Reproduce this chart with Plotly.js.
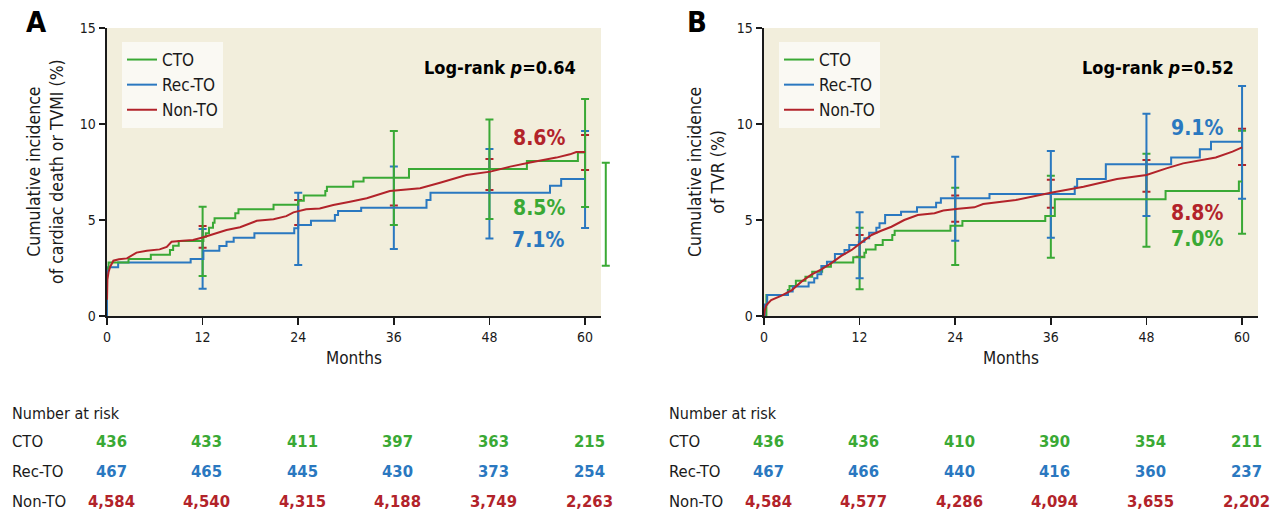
<!DOCTYPE html>
<html>
<head>
<meta charset="utf-8">
<script src="https://cdn.plot.ly/plotly-3.0.1.min.js"></script>
<style>html,body{margin:0;padding:0;background:#fff;}#chart{width:1274px;height:515px;}</style>
</head>
<body>
<div id="chart"></div>
<script>
// ---------- data ----------
const months = [0, 12, 24, 36, 48, 60];
const groupNames = ["CTO", "Rec-TO", "Non-TO"];

// Panel A: cardiac death or TVMI
const aCtoX = [0, 0.2, 2.7, 5.5, 7.9, 8.3, 9.0, 12.1, 12.4, 12.8, 13.3, 13.5, 16.1, 16.5, 20.9, 24.0, 24.7, 27.4, 27.6, 30.9, 32.2, 37.9, 52.7, 59.1, 60];
const aCtoY = [2.48, 2.78, 2.97, 3.19, 3.44, 3.66, 3.9, 4.13, 4.31, 4.6, 4.86, 5.09, 5.35, 5.56, 5.8, 6.0, 6.27, 6.51, 6.73, 7.0, 7.2, 7.66, 8.07, 8.52, 8.52];
const aRecX = [0, 0, 0.1, 1.4, 10.5, 12.1, 14.1, 15.0, 15.9, 18.5, 23.5, 24.0, 25.6, 28.6, 29.0, 31.9, 40.1, 40.6, 55.6, 57.0, 60];
const aRecY = [0, 2.2, 2.54, 2.78, 2.97, 3.4, 3.65, 3.87, 4.08, 4.31, 4.57, 4.74, 4.96, 5.26, 5.47, 5.64, 6.04, 6.42, 6.79, 7.14, 7.14];
const aNonX = [0, 0.05, 0.2, 0.4, 0.8, 1.5, 2.5, 3.7, 5, 6.6, 7.5, 8.1, 9.5, 10.8, 12.1, 13.5, 15, 16.7, 18.8, 20.9, 22.5, 23.4, 25, 26.7, 28.4, 30.5, 32.6, 35.5, 39.3, 41.8, 45.1, 48.1, 50.6, 53.1, 56.4, 58.1, 58.9, 60];
const aNonY = [0.85, 1.9, 2.3, 2.57, 2.88, 2.95, 3.0, 3.3, 3.4, 3.47, 3.6, 3.87, 3.92, 3.96, 4.1, 4.3, 4.48, 4.62, 4.96, 5.04, 5.2, 5.4, 5.56, 5.6, 5.78, 5.95, 6.13, 6.51, 6.65, 6.94, 7.34, 7.52, 7.78, 8.0, 8.25, 8.42, 8.54, 8.54];

const aCtoCiX = [12, 36, 48, 60];
const aCtoCiLo = [2.08, 4.74, 5.05, 5.68];
const aCtoCiHi = [5.69, 9.64, 10.23, 11.30];
const aCtoStrayX = [62.6];
const aCtoStrayLo = [2.62];
const aCtoStrayHi = [7.98];
const aRecCiX = [12, 24, 36, 48, 60];
const aRecCiLo = [1.42, 2.66, 3.49, 4.03, 4.58];
const aRecCiHi = [4.53, 6.42, 7.78, 8.70, 9.64];
const aNonCiX = [12, 24, 36, 48, 60];
const aNonCiLo = [3.56, 4.74, 5.75, 6.56, 7.60];
const aNonCiHi = [4.69, 6.04, null, 8.18, 9.43];

const aRiskCto = [436, 433, 411, 397, 363, 215];
const aRiskRec = [467, 465, 445, 430, 373, 254];
const aRiskNon = [4584, 4540, 4315, 4188, 3749, 2263];
const aFinal = ["8.6%", "8.5%", "7.1%"];   // Non-TO, CTO, Rec-TO
const aLogRank = "0.64";

// Panel B: TVR
const bCtoX = [0, 0.3, 3.0, 3.2, 4.0, 5.2, 6.05, 7.3, 8.4, 11.2, 12.6, 12.8, 14.0, 14.9, 16.1, 16.4, 23.4, 24.9, 35.3, 36.5, 50.4, 59.6, 60];
const bCtoY = [0, 1.09, 1.35, 1.56, 1.84, 2.05, 2.31, 2.57, 2.78, 3.06, 3.3, 3.47, 3.7, 3.96, 4.22, 4.44, 4.7, 4.95, 5.21, 6.08, 6.51, 7.0, 7.0];
const bRecX = [0, 0.1, 0.4, 3.0, 3.6, 5.6, 6.3, 6.7, 7.2, 7.9, 8.9, 10.1, 10.7, 11.9, 12.6, 13.2, 14.1, 14.5, 15.2, 17.2, 19.2, 21.6, 22.2, 28.3, 39.0, 39.3, 42.9, 51.1, 54.7, 56.1, 60];
const bRecY = [0, 0.6, 1.09, 1.27, 1.53, 1.74, 1.96, 2.17, 2.6, 2.83, 3.23, 3.44, 3.7, 3.87, 4.05, 4.34, 4.6, 4.83, 5.26, 5.43, 5.66, 5.9, 6.13, 6.35, 6.73, 7.14, 7.9, 8.26, 8.68, 9.08, 9.08];
const bNonX = [0, 0.1, 0.3, 0.9, 2.2, 3.5, 4.7, 5.9, 7.2, 8.4, 9.7, 11, 12.2, 13.5, 14.7, 16, 17.6, 19.3, 21.4, 22.5, 24.4, 26.4, 27.5, 31.6, 36, 40.1, 44.3, 48, 50.5, 52.6, 56.7, 58.8, 60];
const bNonY = [0, 0.3, 0.57, 0.83, 1.06, 1.35, 1.79, 2.14, 2.43, 2.74, 3.13, 3.44, 3.82, 4.22, 4.44, 4.65, 5.0, 5.26, 5.35, 5.49, 5.59, 5.66, 5.83, 6.04, 6.42, 6.73, 7.14, 7.34, 7.69, 7.95, 8.26, 8.56, 8.78];

const bCtoCiX = [12, 24, 36, 48, 60];
const bCtoCiLo = [1.39, 2.66, 3.04, 3.61, 4.29];
const bCtoCiHi = [4.60, 6.68, 7.30, 8.45, 9.65];
const bRecCiX = [12, 24, 36, 48, 60];
const bRecCiLo = [1.96, 3.92, 4.08, 5.21, 6.11];
const bRecCiHi = [5.40, 8.30, 8.60, 10.53, 11.98];
const bNonCiX = [12, 24, 36, 48, 60];
const bNonCiLo = [3.09, 4.91, 5.64, 6.47, 7.86];
const bNonCiHi = [4.22, 6.27, 7.10, 8.13, 9.75];

const bRiskCto = [436, 436, 410, 390, 354, 211];
const bRiskRec = [467, 466, 440, 416, 360, 237];
const bRiskNon = [4584, 4577, 4286, 4094, 3655, 2202];
const bFinal = ["9.1%", "8.8%", "7.0%"];   // Rec-TO, Non-TO, CTO
const bLogRank = "0.52";

// ---------- styling ----------
const W = 1274, H = 515;
const FONT = "'Liberation Sans Narrow','DejaVu Sans Condensed','Arial Narrow',sans-serif";
const GREEN = "#3aa935", BLUE = "#2a78c0", RED = "#b2232a", INK = "#1a1a1a";
const BG = "#f2eedc";
const px = v => v / W, py = v => (H - v) / H;
const X_MAX = 62;                    // axis range end (months)
const A_L = 107, A_R = 601, B_L = 764, B_R = 1258, STRAY_R = 625;
const pxPerMonth = (A_R - A_L) / X_MAX;

function curve(x, y, name, color, xa, ya, legend, rank, shape) {
  return {x, y, name, type: "scatter", mode: "lines", xaxis: xa, yaxis: ya,
    line: {color, width: 2, shape}, legend, legendrank: rank, hoverinfo: "skip"};
}
function ci(x, lo, hi, color, xa, ya) {
  return {x, y: lo, type: "scatter", mode: "markers", xaxis: xa, yaxis: ya,
    marker: {size: 1, opacity: 0}, showlegend: false, hoverinfo: "skip", cliponaxis: false,
    error_y: {type: "data", symmetric: false,
      array: hi.map((h, i) => h == null ? 0 : h - lo[i]),
      arrayminus: lo.map(() => 0), color, thickness: 2, width: 4}};
}

const traces = [
  ci(aNonCiX, aNonCiLo, aNonCiHi, RED, "x", "y"),
  ci(aRecCiX, aRecCiLo, aRecCiHi, BLUE, "x", "y"),
  ci(aCtoCiX, aCtoCiLo, aCtoCiHi, GREEN, "x", "y"),
  ci(aCtoStrayX, aCtoStrayLo, aCtoStrayHi, GREEN, "x3", "y3"),
  curve(aRecX, aRecY, groupNames[1], BLUE, "x", "y", "legend", 2, "hv"),
  curve(aCtoX, aCtoY, groupNames[0], GREEN, "x", "y", "legend", 1, "hv"),
  curve(aNonX, aNonY, groupNames[2], RED, "x", "y", "legend", 3, "linear"),

  ci(bNonCiX, bNonCiLo, bNonCiHi, RED, "x2", "y2"),
  ci(bCtoCiX, bCtoCiLo, bCtoCiHi, GREEN, "x2", "y2"),
  ci(bRecCiX, bRecCiLo, bRecCiHi, BLUE, "x2", "y2"),
  curve(bCtoX, bCtoY, groupNames[0], GREEN, "x2", "y2", "legend2", 1, "hv"),
  curve(bRecX, bRecY, groupNames[1], BLUE, "x2", "y2", "legend2", 2, "hv"),
  curve(bNonX, bNonY, groupNames[2], RED, "x2", "y2", "legend2", 3, "linear")
];

function xax(l, r) {
  return {domain: [px(l), px(r)], range: [0, X_MAX], tickvals: months, ticks: "outside", ticklen: 7,
    tickwidth: 1.5, tickcolor: INK, showline: true, linecolor: INK, linewidth: 2,
    showgrid: false, zeroline: false, fixedrange: true,
    tickfont: {family: FONT, size: 14, color: INK}};
}
function yax() {
  return {domain: [py(316), py(28)], range: [0, 15], tickvals: [0, 5, 10, 15], ticks: "outside",
    ticklen: 6, tickwidth: 1.5, tickcolor: INK, showline: true, linecolor: INK, linewidth: 2.5,
    showgrid: false, zeroline: false, fixedrange: true,
    tickfont: {family: FONT, size: 14, color: INK}};
}
function leg(l, t) {
  return {x: px(l), y: py(t), xanchor: "left", yanchor: "top", bgcolor: "#faf9f3",
    borderwidth: 0, font: {family: FONT, size: 17, color: INK}, tracegroupgap: 0, itemwidth: 30,
    entrywidth: 78, entrywidthmode: "pixels"};
}

const ann = [];
function txt(x, y, text, opts) {
  ann.push(Object.assign({xref: "paper", yref: "paper", x: px(x), y: py(y), text, showarrow: false,
    xanchor: "center", yanchor: "middle", font: {family: FONT, size: 16, color: INK}}, opts || {}));
}
// panel letters
txt(36, 22, "<b>A</b>", {font: {family: FONT, size: 29, color: "#000"}});
txt(697, 22, "<b>B</b>", {font: {family: FONT, size: 29, color: "#000"}});
// y titles
txt(45, 172, "Cumulative incidence<br>of cardiac death or TVMI (%)", {textangle: -90, font: {family: FONT, size: 17.5, color: INK}});
txt(706, 172, "Cumulative incidence<br>of TVR (%)", {textangle: -90, font: {family: FONT, size: 17.5, color: INK}});
// x titles
txt(354, 358, "Months", {font: {family: FONT, size: 17, color: INK}});
txt(1011, 358, "Months", {font: {family: FONT, size: 17, color: INK}});
// log-rank
txt(578, 67, "<b>Log-rank <i>p</i>=" + aLogRank + "</b>", {xanchor: "right", font: {family: FONT, size: 18, color: "#000"}});
txt(1236, 67, "<b>Log-rank <i>p</i>=" + bLogRank + "</b>", {xanchor: "right", font: {family: FONT, size: 18, color: "#000"}});
// final percentages
const bigF = c => ({font: {family: FONT, size: 21, color: c}});
txt(539, 138, "<b>" + aFinal[0] + "</b>", bigF(RED));
txt(539, 208, "<b>" + aFinal[1] + "</b>", bigF(GREEN));
txt(538, 240, "<b>" + aFinal[2] + "</b>", bigF(BLUE));
txt(1197, 128, "<b>" + bFinal[0] + "</b>", bigF(BLUE));
txt(1197, 213, "<b>" + bFinal[1] + "</b>", bigF(RED));
txt(1197, 239, "<b>" + bFinal[2] + "</b>", bigF(GREEN));

// number at risk tables
const rowY = [441, 471, 501];
function riskTable(xref, leftPx, rows) {
  txt(leftPx, 413, "Number at risk", {xanchor: "left", font: {family: FONT, size: 16, color: INK}});
  const colors = [GREEN, BLUE, RED];
  rows.forEach((vals, r) => {
    txt(leftPx, rowY[r], groupNames[r], {xanchor: "left", font: {family: FONT, size: 16.5, color: INK}});
    vals.forEach((v, i) => {
      ann.push({xref, yref: "paper", x: months[i], xshift: 4, y: py(rowY[r]), yanchor: "middle",
        xanchor: "center", showarrow: false, text: "<b>" + v.toLocaleString("en-US") + "</b>",
        font: {family: FONT, size: 16.5, color: colors[r]}});
    });
  });
}
riskTable("x", 10, [aRiskCto, aRiskRec, aRiskNon]);
riskTable("x2", 667, [bRiskCto, bRiskRec, bRiskNon]);

const bgRect = (xr, yr) => ({type: "rect", xref: xr + " domain", yref: yr + " domain", x0: 0, x1: 1, y0: 0, y1: 1,
  fillcolor: BG, line: {width: 0}, layer: "below"});

const layout = {
  width: W, height: H, margin: {l: 0, r: 0, t: 0, b: 0},
  paper_bgcolor: "#ffffff", plot_bgcolor: "rgba(0,0,0,0)",
  xaxis: Object.assign(xax(A_L, A_R), {anchor: "y"}),
  yaxis: Object.assign(yax(), {anchor: "x"}),
  xaxis2: Object.assign(xax(B_L, B_R), {anchor: "y2"}),
  yaxis2: Object.assign(yax(), {anchor: "x2"}),
  // narrow strip just right of panel A, same month scale, for the stray CTO interval bar
  xaxis3: {domain: [px(A_R), px(STRAY_R)], range: [X_MAX, X_MAX + (STRAY_R - A_R) / pxPerMonth],
    anchor: "y3", visible: false, fixedrange: true},
  yaxis3: {domain: [py(316), py(28)], range: [0, 15], anchor: "x3", visible: false, fixedrange: true},
  legend: leg(122, 42),
  legend2: leg(779, 42),
  shapes: [bgRect("x", "y"), bgRect("x2", "y2")],
  annotations: ann,
  showlegend: true
};

Plotly.newPlot("chart", traces, layout, {staticPlot: true, displayModeBar: false});
</script>
</body>
</html>
